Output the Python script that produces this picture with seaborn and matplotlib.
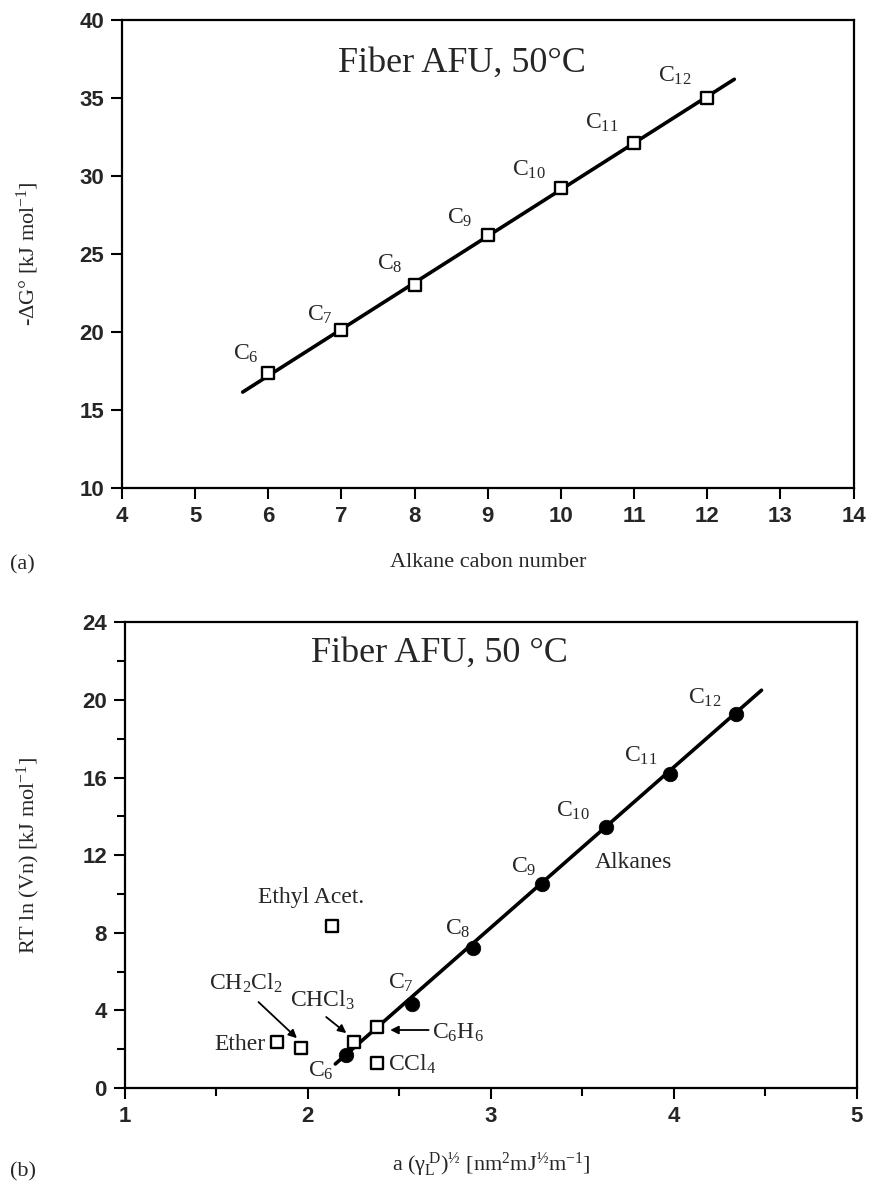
import matplotlib
matplotlib.use("Agg")
import matplotlib.pyplot as plt
from matplotlib.ticker import MultipleLocator
import seaborn as sns
import pandas as pd

# (a) Gibbs free energy vs. alkane carbon number
carbon_n = [6, 7, 8, 9, 10, 11, 12]
dG = [17.4, 20.1, 23.0, 26.2, 29.2, 32.1, 35.0]
alk_names = ["C$_{6}$", "C$_{7}$", "C$_{8}$", "C$_{9}$", "C$_{10}$", "C$_{11}$", "C$_{12}$"]
fit_a_x = [5.65, 12.37]
fit_a_y = [16.15, 36.2]
lab_a_x = [5.70, 6.70, 7.66, 8.62, 9.56, 10.56, 11.56]
lab_a_y = [18.6, 21.1, 24.4, 27.3, 30.4, 33.4, 36.4]

# (b) RT ln(Vn) vs a(gamma_L^D)^1/2
alk_x = [2.21, 2.57, 2.90, 3.28, 3.63, 3.98, 4.34]
alk_y = [1.7, 4.33, 7.21, 10.5, 13.44, 16.2, 19.26]
fit_b_x = [2.15, 4.48]
fit_b_y = [1.24, 20.5]
lab_b_x = [2.07, 2.51, 2.82, 3.18, 3.45, 3.82, 4.17]
lab_b_y = [0.9, 5.4, 8.2, 11.4, 14.3, 17.1, 20.1]

polar_names = ["Ether", "CH$_{2}$Cl$_{2}$", "CHCl$_{3}$", "C$_{6}$H$_{6}$", "CCl$_{4}$", "Ethyl Acet."]
polar_x = [1.83, 1.96, 2.25, 2.38, 2.38, 2.13]
polar_y = [2.37, 2.06, 2.37, 3.14, 1.29, 8.34]

sns.set_theme(style="ticks")
plt.rcParams["font.family"] = ["Liberation Serif", "DejaVu Serif"]
plt.rcParams["mathtext.fontset"] = "custom"
plt.rcParams["mathtext.rm"] = "Liberation Serif"
plt.rcParams["mathtext.it"] = "Liberation Serif:italic"
plt.rcParams["mathtext.bf"] = "Liberation Serif:bold"
plt.rcParams["axes.linewidth"] = 1.6

df_a = pd.DataFrame({"n": carbon_n, "dG": dG})
df_b = pd.DataFrame({"x": alk_x, "y": alk_y})
df_p = pd.DataFrame({"x": polar_x, "y": polar_y})

fig = plt.figure(figsize=(8.71, 11.82), dpi=100)
ax1 = fig.add_axes([0.140, 0.5871, 0.840, 0.396])
ax2 = fig.add_axes([0.1435, 0.0795, 0.840, 0.394])

# ---- panel (a)
sns.lineplot(x=fit_a_x, y=fit_a_y, color="black", lw=2.6, ax=ax1)
sns.scatterplot(data=df_a, x="n", y="dG", marker="s", s=85, fc="white",
                ec="black", linewidth=1.7, zorder=3, ax=ax1)
for nm, tx, ty in zip(alk_names, lab_a_x, lab_a_y):
    ax1.text(tx, ty, nm, fontsize=17, ha="center", va="center")
ax1.text(8.65, 37.2, "Fiber AFU, 50°C", fontsize=26, ha="center", va="center")
ax1.set_xlim(4, 14)
ax1.set_ylim(10, 40)
ax1.xaxis.set_major_locator(MultipleLocator(1))
ax1.yaxis.set_major_locator(MultipleLocator(5))
ax1.set_xlabel("Alkane cabon number", fontsize=16)
ax1.set_ylabel("-ΔG° [kJ mol$^{\\mathregular{-1}}$]", fontsize=16)
ax1.xaxis.set_label_coords(0.5, -0.16)
ax1.yaxis.set_label_coords(-0.128, 0.5)
ax1.xaxis.label.set_va("center")
ax1.yaxis.label.set_va("center")

# ---- panel (b)
sns.lineplot(x=fit_b_x, y=fit_b_y, color="black", lw=2.6, ax=ax2)
sns.scatterplot(data=df_b, x="x", y="y", marker="o", s=110, color="black",
                ec="black", linewidth=0.5, zorder=3, ax=ax2)
sns.scatterplot(data=df_p, x="x", y="y", marker="s", s=85, fc="white",
                ec="black", linewidth=1.7, zorder=3, ax=ax2)
for nm, tx, ty in zip(alk_names, lab_b_x, lab_b_y):
    ax2.text(tx, ty, nm, fontsize=17, ha="center", va="center")
ax2.text(3.78, 11.6, "Alkanes", fontsize=17, ha="center", va="center")
ax2.text(2.72, 22.4, "Fiber AFU, 50 °C", fontsize=26, ha="center", va="center")

# polar probe labels and arrows
arrow = dict(arrowstyle="-|>", color="black", lw=1.3, mutation_scale=12, shrinkA=0, shrinkB=0)
ax2.text(1.77, 2.25, polar_names[0], fontsize=17, ha="right", va="center")
ax2.text(1.66, 5.4, polar_names[1], fontsize=17, ha="center", va="center")
ax2.annotate("", xy=(1.94, 2.57), xytext=(1.73, 4.43), arrowprops=arrow)
ax2.text(2.08, 4.5, polar_names[2], fontsize=17, ha="center", va="center")
ax2.annotate("", xy=(2.21, 2.83), xytext=(2.10, 3.66), arrowprops=arrow)
ax2.text(2.68, 2.85, polar_names[3], fontsize=17, ha="left", va="center")
ax2.annotate("", xy=(2.45, 2.99), xytext=(2.66, 2.99), arrowprops=arrow)
ax2.text(2.44, 1.2, polar_names[4], fontsize=17, ha="left", va="center")
ax2.text(2.02, 9.8, polar_names[5], fontsize=17, ha="center", va="center")

ax2.set_xlim(1, 5)
ax2.set_ylim(0, 24)
ax2.xaxis.set_major_locator(MultipleLocator(1))
ax2.xaxis.set_minor_locator(MultipleLocator(0.5))
ax2.yaxis.set_major_locator(MultipleLocator(4))
ax2.yaxis.set_minor_locator(MultipleLocator(2))
ax2.set_xlabel("a ($\\mathregular{\\gamma_L^{\\ D}}$)$^{½}$ [nm$^{2}$mJ$^{½}$m$^{\\mathregular{-1}}$]",
               fontsize=16)
ax2.set_ylabel("RT ln (Vn) [kJ mol$^{\\mathregular{-1}}$]", fontsize=16)
ax2.xaxis.set_label_coords(0.5, -0.165)
ax2.yaxis.set_label_coords(-0.132, 0.5)
ax2.xaxis.label.set_va("center")
ax2.yaxis.label.set_va("center")

for ax in (ax1, ax2):
    for s in ax.spines.values():
        s.set_visible(True)
        s.set_linewidth(1.6)
        s.set_color("black")
    ax.tick_params(which="major", direction="out", length=8, width=1.5,
                   color="black", pad=5, labelsize=16)
    ax.tick_params(which="minor", direction="out", length=6, width=1.5, color="black")
    for lab in ax.get_xticklabels() + ax.get_yticklabels():
        lab.set_fontfamily("Liberation Sans")
        lab.set_fontweight("bold")
    ax.set_facecolor("white")

fig.text(0.012, 1 - 565 / 1182, "(a)", fontsize=16, va="center")
fig.text(0.012, 1 - 1172 / 1182, "(b)", fontsize=16, va="center")

fig.savefig("out.png", dpi=100, facecolor="white")
